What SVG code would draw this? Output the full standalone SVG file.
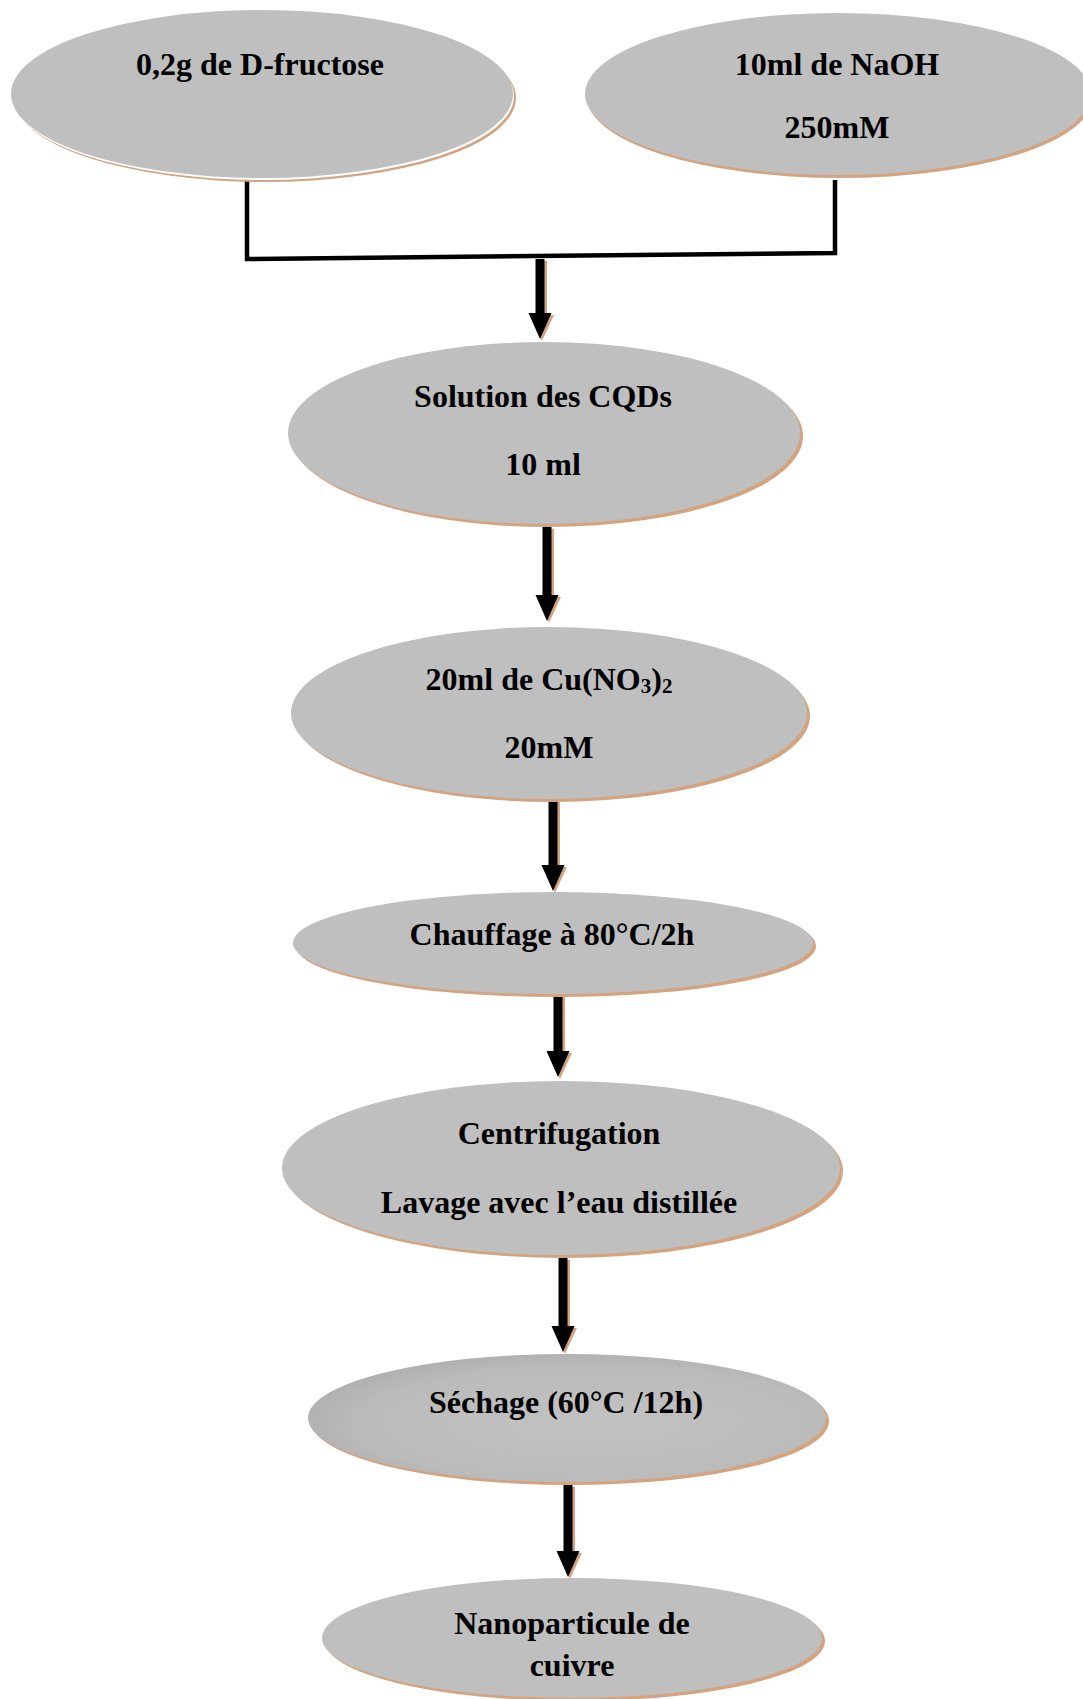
<svg xmlns="http://www.w3.org/2000/svg" width="1083" height="1699" viewBox="0 0 1083 1699">
<defs>
<style>
.sh{fill:#D3A47F}
.nd{fill:#BFBFBF}
.t{font-family:"Liberation Serif","Times New Roman",serif;font-weight:bold;font-size:32px;fill:#000;text-anchor:middle}
.sub{font-size:21px}
.ln{fill:none;stroke:#000;stroke-width:4.5}
.ar{fill:#000}
.as{fill:#D3A47F}
</style>
<radialGradient id="g7" cx="0.55" cy="0.55" r="0.6">
<stop offset="0" stop-color="#C2C2C2"/>
<stop offset="0.75" stop-color="#BBBBBB"/>
<stop offset="1" stop-color="#ADADAD"/>
</radialGradient>
</defs>
<rect width="1083" height="1699" fill="#fff"/>
<g id="connectors">
<polyline class="ln" points="247,180 247,259 835,253 835,180"/>
<path class="as" d="M538,261 L547,261 L547,315 L554,315 L542,341 L530,315 L538,315 Z"/>
<path class="ar" d="M535.5,259 L544.5,259 L544.5,313 L551.5,313 L540,339 L528.5,313 L535.5,313 Z"/>
<path class="as" d="M545,529 L554,529 L554,597 L561,597 L549,623 L537,597 L545,597 Z"/>
<path class="ar" d="M542.5,527 L551.5,527 L551.5,595 L558.5,595 L547,621 L535.5,595 L542.5,595 Z"/>
<path class="as" d="M551,802 L560,802 L560,867 L567,867 L555,893 L543,867 L551,867 Z"/>
<path class="ar" d="M548.5,800 L557.5,800 L557.5,865 L564.5,865 L553,891 L541.5,865 L548.5,865 Z"/>
<path class="as" d="M556,997 L565,997 L565,1053 L572,1053 L560,1079 L548,1053 L556,1053 Z"/>
<path class="ar" d="M553.5,995 L562.5,995 L562.5,1051 L569.5,1051 L558,1077 L546.5,1051 L553.5,1051 Z"/>
<path class="as" d="M561,1260 L570,1260 L570,1328 L577,1328 L565,1354 L553,1328 L561,1328 Z"/>
<path class="ar" d="M558.5,1258 L567.5,1258 L567.5,1326 L574.5,1326 L563,1352 L551.5,1326 L558.5,1326 Z"/>
<path class="as" d="M566,1487 L575,1487 L575,1553 L582,1553 L570,1579 L558,1553 L566,1553 Z"/>
<path class="ar" d="M563.5,1485 L572.5,1485 L572.5,1551 L579.5,1551 L568,1577 L556.5,1551 L563.5,1551 Z"/>
</g>
<g id="n1">
<ellipse class="sh" cx="265" cy="98" rx="251" ry="84"/>
<ellipse cx="263" cy="96" rx="251" ry="84" fill="#fff"/>
<ellipse class="nd" cx="262" cy="94" rx="251" ry="84"/>
<text class="t" x="260" y="75">0,2g de D-fructose</text>
</g>
<g id="n2">
<ellipse class="sh" cx="840" cy="97" rx="253" ry="81"/>
<ellipse class="nd" cx="838" cy="94" rx="253" ry="81"/>
<text class="t" x="837" y="75">10ml de NaOH</text>
<text class="t" x="837" y="138">250mM</text>
</g>
<g id="n3">
<ellipse class="sh" cx="547" cy="436" rx="256" ry="91"/>
<ellipse class="nd" cx="544" cy="433" rx="256" ry="91"/>
<text class="t" x="543" y="407">Solution des CQDs</text>
<text class="t" x="543" y="475">10 ml</text>
</g>
<g id="n4">
<ellipse class="sh" cx="552" cy="716" rx="258" ry="86"/>
<ellipse class="nd" cx="549" cy="713" rx="258" ry="86"/>
<text class="t" x="549" y="690">20ml de Cu(NO<tspan class="sub" dy="3">3</tspan><tspan dy="-3">)</tspan><tspan class="sub" dy="3">2</tspan></text>
<text class="t" x="549" y="758">20mM</text>
</g>
<g id="n5">
<ellipse class="sh" cx="556" cy="946" rx="260" ry="51"/>
<ellipse class="nd" cx="553" cy="943" rx="260" ry="51"/>
<text class="t" x="552" y="945">Chauffage à 80°C/2h</text>
</g>
<g id="n6">
<ellipse class="sh" cx="564" cy="1171" rx="279" ry="87"/>
<ellipse class="nd" cx="561" cy="1168" rx="279" ry="87"/>
<text class="t" x="559" y="1144">Centrifugation</text>
<text class="t" x="559" y="1213">Lavage avec l’eau distillée</text>
</g>
<g id="n7">
<ellipse class="sh" cx="570" cy="1421" rx="259" ry="64"/>
<ellipse fill="url(#g7)" cx="567" cy="1418" rx="259" ry="64"/>
<text class="t" x="566" y="1413">Séchage (60°C /12h)</text>
</g>
<g id="n8">
<ellipse class="sh" cx="575" cy="1641" rx="250" ry="60"/>
<ellipse class="nd" cx="572" cy="1638" rx="250" ry="60"/>
<text class="t" x="572" y="1634">Nanoparticule de</text>
<text class="t" x="572" y="1676">cuivre</text>
</g>
</svg>
